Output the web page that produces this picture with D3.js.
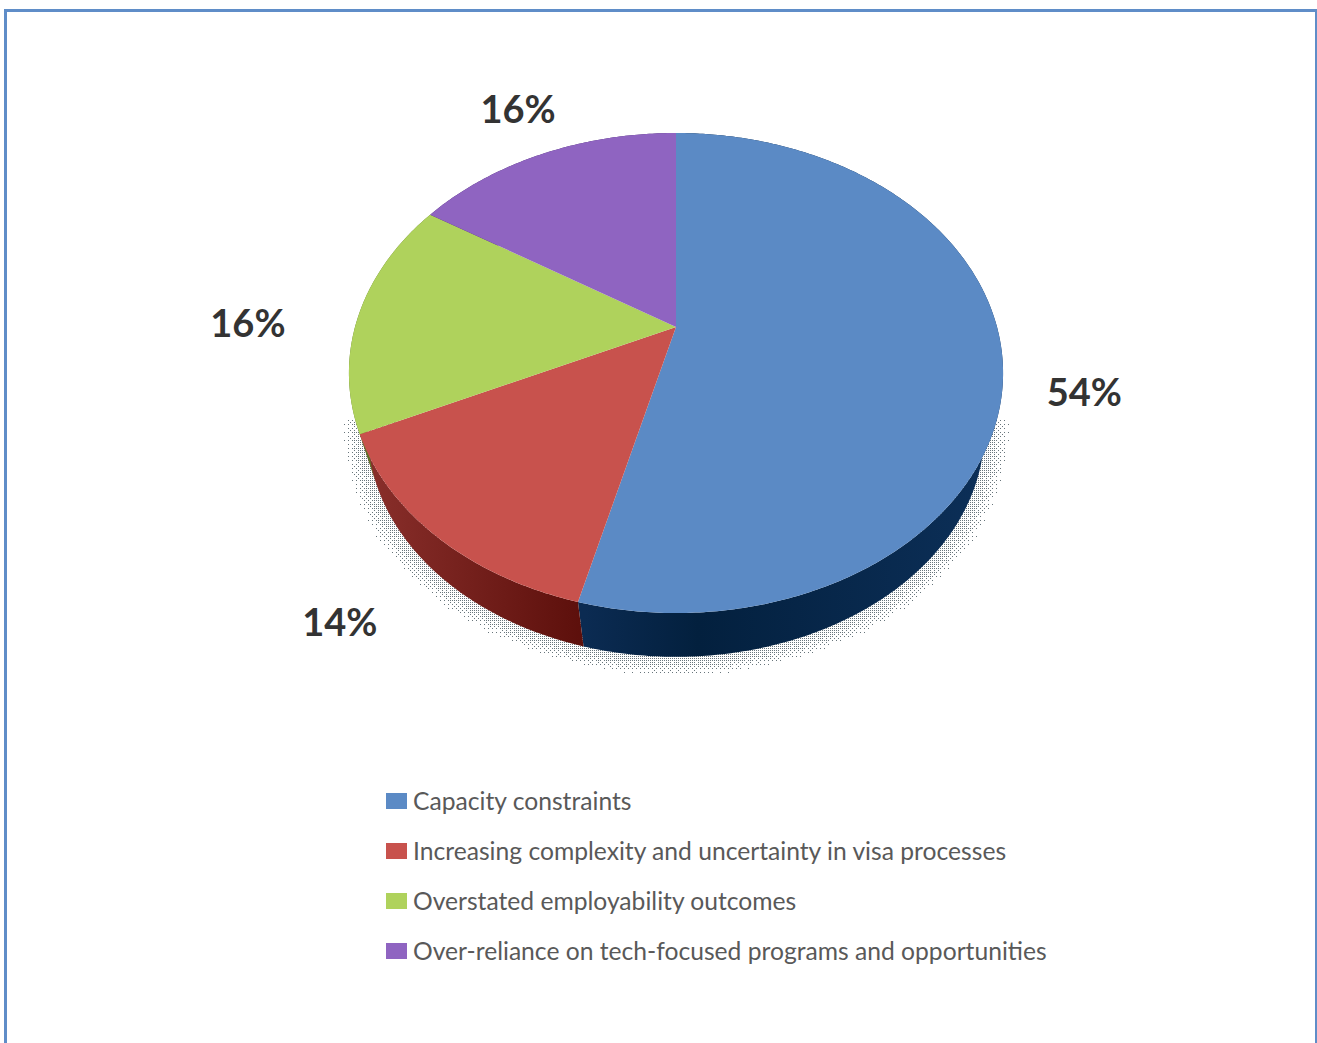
<!DOCTYPE html>
<html>
<head>
<meta charset="utf-8">
<style>
  html, body { margin: 0; padding: 0; background: #fff; }
  svg { display: block; }
</style>
<script src="https://cdnjs.cloudflare.com/ajax/libs/d3/7.8.5/d3.min.js"></script>
</head>
<body>
<svg id="chart" width="1317" height="1043"></svg>
<script>
// Chart data
const categories = [
  "Capacity constraints",
  "Increasing complexity and uncertainty in visa processes",
  "Overstated employability outcomes",
  "Over-reliance on tech-focused programs and opportunities"
];
const shares = [54, 14, 16, 16];

// Slice colours
const topColors = ["#5b8ac5", "#c8524d", "#afd25c", "#8f64c1"];
const wallStart = ["#0b2b52", "#8b302c", "#5c7427", "#44266c"];
const wallEnd = ["#0c2f58", "#5c0f0b", "#5c7427", "#44266c"];

// Perspective of the disc: circle coordinates to the page
const cx = 676, apexY = 327, tilt = 0.1917, scaleX = 321, scaleY = 231.2;
const vanishY = 1381, rimScale = 0.943;

const projectTop = (a, r = 1) => {
  const x = r * Math.sin(a), y = -r * Math.cos(a), w = 1 - tilt * y;
  return [cx + scaleX * x / w, apexY + scaleY * y / w];
};
const projectBase = (a) => {
  const [x, y] = projectTop(a);
  return [cx + rimScale * (x - cx), vanishY + rimScale * (y - vanishY)];
};

const svg = d3.select("#chart");
const line = d3.line();
const arcAngles = (a0, a1) => {
  const n = Math.max(2, Math.ceil((a1 - a0) * 90));
  return d3.range(n + 1).map(i => a0 + (a1 - a0) * i / n);
};

const slices = d3.pie().sort(null).value(d => d)(shares);

// Frame around the figure
const frame = svg.append("g").attr("fill", "#5f8dc8");
frame.append("rect").attr("x", 4).attr("y", 9).attr("width", 1313).attr("height", 3);
frame.append("rect").attr("x", 4).attr("y", 9).attr("width", 3).attr("height", 1034);
frame.append("rect").attr("x", 1315).attr("y", 9).attr("width", 2).attr("height", 1034);

// Halftone drop shadow under the disc
const shadow = { cy: 431, rx: 308, ry: 226, band: 0.082 };
const bayer = [[0, 8, 2, 10], [12, 4, 14, 6], [3, 11, 1, 9], [15, 7, 13, 5]];
let dots = "";
for (let gy = 420; gy < 682; gy += 2) {
  for (let gx = 340; gx < 1012; gx += 2) {
    const r = Math.hypot((gx - cx) / shadow.rx, (gy - shadow.cy) / shadow.ry);
    const t = (r - 1) / shadow.band;
    if (t > 1 || r < 0.9) continue;
    const limit = (bayer[(gy / 2) % 4][(gx / 2) % 4] + 0.5) / 16;
    if (limit < 1.3 * (1 - Math.max(t, 0))) dots += `M${gx} ${gy}h1.4v1.4h-1.4z`;
  }
}
svg.append("path").attr("d", dots).attr("fill", "#69767c").attr("shape-rendering", "crispEdges");

// Side walls
const defs = svg.append("defs");
slices.forEach((s, i) => {
  const g = defs.append("linearGradient")
    .attr("id", `wall${i}`).attr("gradientUnits", "userSpaceOnUse")
    .attr("x1", i === 0 ? 990 : 360).attr("x2", 585)
    .attr("y1", 0).attr("y2", 0);
  g.append("stop").attr("offset", 0).attr("stop-color", i === 0 ? wallEnd[i] : wallStart[i]);
  if (i === 0) g.append("stop").attr("offset", 0.72).attr("stop-color", "#03203e");
  g.append("stop").attr("offset", 1).attr("stop-color", i === 0 ? wallStart[i] : wallEnd[i]);
});
svg.append("g").selectAll("path").data(slices).join("path")
  .attr("d", d => {
    const angles = arcAngles(d.startAngle, d.endAngle);
    return line(angles.map(a => projectTop(a)).concat(angles.slice().reverse().map(projectBase))) + "Z";
  })
  .attr("fill", (d, i) => `url(#wall${i})`);

// Top face of the disc
svg.append("g").selectAll("path").data(slices).join("path")
  .attr("d", d => line([[cx, apexY]].concat(arcAngles(d.startAngle, d.endAngle).map(a => projectTop(a)))) + "Z")
  .attr("fill", (d, i) => topColors[i]);

// Percentage labels, anchored outside each slice's mid-angle
const labelReach = 1.3;
const labelNudge = [[-19, 26], [-7, 9], [-18, 15], [7, -2]];
svg.append("g").selectAll("text").data(slices).join("text")
  .attr("transform", (d, i) => {
    const [x, y] = projectTop((d.startAngle + d.endAngle) / 2, labelReach);
    return `translate(${x + labelNudge[i][0]},${y + labelNudge[i][1]})`;
  })
  .attr("text-anchor", "middle")
  .attr("dy", "0.36em")
  .attr("font-family", "Lato, sans-serif")
  .attr("font-weight", 700)
  .attr("font-size", 38)
  .attr("fill", "#333333")
  .text(d => `${d.data}%`);

// Legend
const legendY = d3.scalePoint().domain(categories).range([801, 951]);
const legend = svg.append("g").selectAll("g").data(categories).join("g")
  .attr("transform", d => `translate(386,${legendY(d)})`);
legend.append("rect")
  .attr("y", -8).attr("width", 21).attr("height", 16)
  .attr("fill", (d, i) => topColors[i]);
legend.append("text")
  .attr("x", 27)
  .attr("dy", "0.35em")
  .attr("font-family", "Lato, sans-serif")
  .attr("font-size", 24.65)
  .attr("fill", "#595959")
  .text(d => d);
</script>
</body>
</html>
